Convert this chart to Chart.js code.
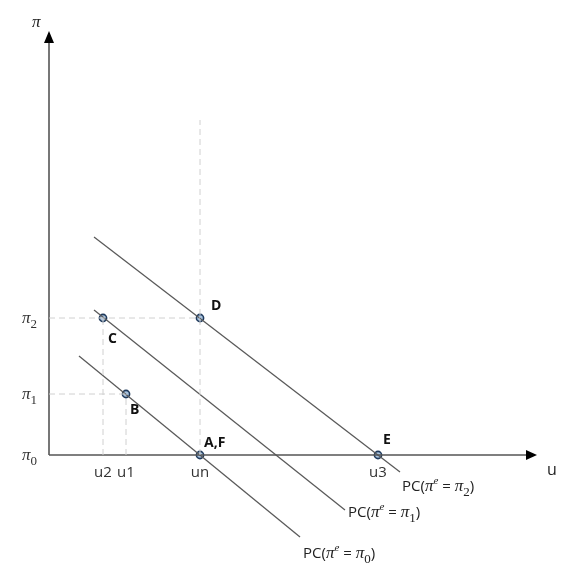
<!DOCTYPE html>
<html>
<head>
<meta charset="utf-8">
<script src="https://cdn.jsdelivr.net/npm/chart.js@4.4.1/dist/chart.umd.min.js"></script>
<style>
html,body{margin:0;padding:0;background:#fff;}
#pc{display:block;}
</style>
</head>
<body>
<canvas id="pc" width="567" height="568"></canvas>
<script>

// unemployment (horizontal) and inflation (vertical), origin at the axes corner
let uTicks = ["u2","u1","un","u3"]
let uValues = [1.08,1.54,3.02,6.58]
let piTicks = ["0","1","2"]          // drawn as pi with subscript
let piValues = [0,1.22,2.74]

let pointNames = ["A,F","B","C","D","E"]
let pointU = [3.02,1.54,1.08,3.02,6.58]
let pointPi = [0,1.22,2.74,2.74,0]

// Phillips curves PC(pi^e = pi_k)
let curveNames = ["0","1","2"]
let curveStartU = [0.60,0.90,0.90]
let curveStartPi = [1.98,2.90,4.36]
let curveEndU = [5.02,5.92,7.02]
let curveEndPi = [-1.64,-1.10,-0.34]

// axis lengths
let uAxisEnd = 9.72
let piAxisEnd = 8.44
let unGuideTop = 6.7


let lineColor = "#5a5a5a"
let axisColor = "#555555"
let guideColor = "#d0d0d0"

let sans = "'Open Sans', 'Noto Sans', sans-serif"
let serif = "'Liberation Serif', 'DejaVu Serif', serif"

function seg(x1,y1,x2,y2,color,width,dash){
return {
data:[{x:x1,y:y1},{x:x2,y:y2}],
borderColor:color,
borderWidth:width,
borderDash:dash || [],
pointRadius:0,
showLine:true,
fill:false
}
}

let datasets=[]

// dashed guides
datasets.push(seg(0,piValues[2],uValues[2],piValues[2],guideColor,1,[6,4]))
datasets.push(seg(0,piValues[1],uValues[1],piValues[1],guideColor,1,[6,4]))
datasets.push(seg(uValues[0],0,uValues[0],piValues[2],guideColor,1,[6,4]))
datasets.push(seg(uValues[1],0,uValues[1],piValues[1],guideColor,1,[6,4]))
datasets.push(seg(uValues[2],0,uValues[2],unGuideTop,guideColor,1,[6,4]))

// axes
datasets.push(seg(0,0,uAxisEnd,0,axisColor,1.6))
datasets.push(seg(0,0,0,piAxisEnd,axisColor,1.6))

// curves
curveNames.forEach((n,i)=>{
datasets.push(seg(curveStartU[i],curveStartPi[i],curveEndU[i],curveEndPi[i],lineColor,1.3))
})

// marked points
datasets.push({
data:pointU.map((u,i)=>({x:u,y:pointPi[i]})),
showLine:false,
pointRadius:3.6,
pointBackgroundColor:"#a8c3df",
pointBorderColor:"#1f3a5c",
pointBorderWidth:1.6
})


// draws a run of text pieces [text, font, dy]
function richText(ctx,x,y,pieces){
pieces.forEach(p=>{
ctx.font=p[1]
ctx.fillText(p[0],x,y+(p[2]||0))
x+=ctx.measureText(p[0]).width
})
}

function richWidth(ctx,pieces){
let w=0
pieces.forEach(p=>{ ctx.font=p[1]; w+=ctx.measureText(p[0]).width })
return w
}

function piPieces(sub){
return [["π","italic 17px "+serif],[sub,"13px "+serif,5]]
}

let labelPlugin={
id:"labels",
afterDatasetsDraw(chart){
let ctx=chart.ctx
let xs=chart.scales.x
let ys=chart.scales.y
let ox=xs.getPixelForValue(0)
let oy=ys.getPixelForValue(0)
ctx.save()
ctx.fillStyle="#000"
ctx.textBaseline="alphabetic"

// arrow heads
let tipX=xs.getPixelForValue(uAxisEnd)
ctx.beginPath()
ctx.moveTo(tipX+2,oy)
ctx.lineTo(tipX-9,oy-5)
ctx.lineTo(tipX-9,oy+5)
ctx.closePath()
ctx.fill()
let tipY=ys.getPixelForValue(piAxisEnd)
ctx.beginPath()
ctx.moveTo(ox,tipY-2)
ctx.lineTo(ox-5,tipY+10)
ctx.lineTo(ox+5,tipY+10)
ctx.closePath()
ctx.fill()

// axis names
ctx.fillStyle="#222"
ctx.font="italic 17px "+serif
ctx.fillText("π",ox-17,tipY-6)
ctx.font="16px "+sans
ctx.fillText("u",tipX+12,oy+20)

// tick labels
ctx.fillStyle="#333"
ctx.font="15px "+sans
ctx.textAlign="center"
uTicks.forEach((t,i)=>{
ctx.fillText(t,xs.getPixelForValue(uValues[i]),oy+22)
})
ctx.textAlign="left"
piTicks.forEach((t,i)=>{
let pcs=piPieces(t)
let w=richWidth(ctx,pcs)
richText(ctx,ox-12-w,ys.getPixelForValue(piValues[i])+5,pcs)
})

// point names
ctx.fillStyle="#111"
ctx.font="bold 14px "+sans
let nameOffsets=[[4,-8],[4,20],[5,25],[11,-8],[5,-11]]
pointNames.forEach((n,i)=>{
ctx.fillText(n,xs.getPixelForValue(pointU[i])+nameOffsets[i][0],ys.getPixelForValue(pointPi[i])+nameOffsets[i][1])
})

// curve names
ctx.fillStyle="#222"
let curveOffsets=[[3,21],[3,7],[2,19]]
curveNames.forEach((n,i)=>{
let pcs=[["PC(","15px "+sans],["π","italic 17px "+serif],["e","italic 11px "+serif,-7],[" = ","15px "+sans]]
pcs=pcs.concat(piPieces(n))
pcs.push([")","15px "+sans])
richText(ctx,xs.getPixelForValue(curveEndU[i])+curveOffsets[i][0],ys.getPixelForValue(curveEndPi[i])+curveOffsets[i][1],pcs)
})

ctx.restore()
}
}


new Chart(document.getElementById("pc"),{
type:"scatter",
data:{datasets:datasets},
options:{
responsive:false,
animation:false,
layout:{padding:0,autoPadding:false},
plugins:{legend:{display:false},tooltip:{enabled:false}},
scales:{
x:{type:"linear",display:false,min:-0.98,max:10.36},
y:{type:"linear",display:false,min:-2.26,max:9.1}
}
},
plugins:[labelPlugin]
})

</script>
</body>
</html>
